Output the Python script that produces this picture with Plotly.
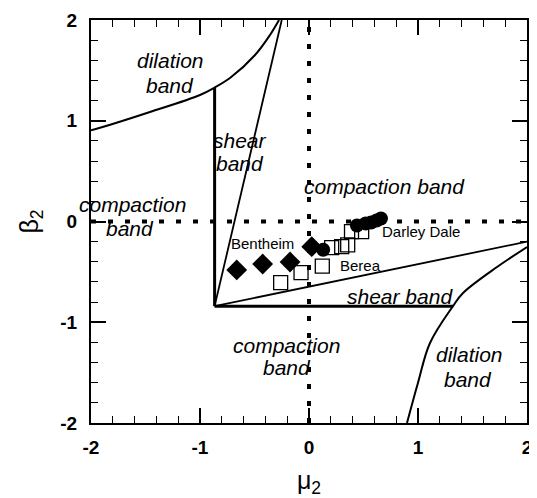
import plotly.graph_objects as go

# ---- data ----
mu_dil_upper = [-2.0, -1.917, -1.459, -1.0, -0.866, -0.725, -0.495, -0.358, -0.275]
beta_dil_upper = [0.905, 0.93, 1.087, 1.256, 1.33, 1.424, 1.653, 1.851, 2.0]

mu_dil_lower = [0.899, 1.0, 1.11, 1.321, 1.413, 1.725, 2.0]
beta_dil_lower = [-2.0, -1.60, -1.206, -0.84, -0.71, -0.452, -0.253]

mu_vert = [-0.866, -0.866]
beta_vert = [-0.84, 1.33]
mu_horiz = [-0.866, 1.321]
beta_horiz = [-0.84, -0.84]
mu_shear_left = [-0.866, -0.25]
beta_shear_left = [-0.84, 2.0]
mu_shear_right = [-0.866, 2.0]
beta_shear_right = [-0.84, -0.20]

mu_zero_line = [0, 0]
beta_zero_line = [-2, 2]
mu_h_zero = [-2, 2]
beta_h_zero = [0, 0]

bentheim_mu = [-0.663, -0.425, -0.174, 0.025]
bentheim_beta = [-0.481, -0.422, -0.402, -0.25]

berea_mu = [-0.26, -0.073, 0.122, 0.208, 0.30, 0.355, 0.39, 0.483]
berea_beta = [-0.607, -0.508, -0.442, -0.26, -0.25, -0.233, -0.10, -0.10]

darley_mu = [0.13, 0.44, 0.52, 0.57, 0.62, 0.66]
darley_beta = [-0.28, -0.04, -0.02, -0.01, 0.01, 0.03]

tick_vals = [-2, -1, 0, 1, 2]
tick_text = ["-2", "-1", "0", "1", "2"]

FONT = "Liberation Sans, Arial, sans-serif"

fig = go.Figure()

def line(x, y, w=2, dash=None, shape="linear"):
    fig.add_trace(go.Scatter(x=x, y=y, mode="lines",
                             line=dict(color="black", width=w, dash=dash, shape=shape),
                             showlegend=False, hoverinfo="skip"))

line(mu_dil_upper, beta_dil_upper, 2, shape="spline")
line(mu_dil_lower, beta_dil_lower, 2, shape="spline")
line(mu_vert, beta_vert, 3)
line(mu_horiz, beta_horiz, 3)
line(mu_shear_left, beta_shear_left, 1.8)
line(mu_shear_right, beta_shear_right, 1.8)
line(mu_zero_line, beta_zero_line, 4, "5px,12px")
line(mu_h_zero, beta_h_zero, 4, "5px,12px")

fig.add_trace(go.Scatter(x=berea_mu, y=berea_beta, mode="markers",
                         marker=dict(symbol="square-open", size=14, color="black",
                                     line=dict(width=1.3, color="black")),
                         showlegend=False))
fig.add_trace(go.Scatter(x=bentheim_mu, y=bentheim_beta, mode="markers",
                         marker=dict(symbol="diamond", size=16, color="black"),
                         showlegend=False))
fig.add_trace(go.Scatter(x=darley_mu, y=darley_beta, mode="markers",
                         marker=dict(symbol="circle", size=14, color="black"),
                         showlegend=False))

labels = [
    ("dilation", -1.275, 1.603, 21, True),
    ("band", -1.275, 1.345, 21, True),
    ("shear", -0.63, 0.80, 21, True),
    ("band", -0.63, 0.575, 21, True),
    ("compaction band", 0.697, 0.352, 21, True),
    ("compaction", -1.615, 0.17, 21, True),
    ("band", -1.64, -0.065, 21, True),
    ("compaction", -0.202, -1.226, 21, True),
    ("band", -0.20, -1.45, 21, True),
    ("shear band", 0.835, -0.74, 21, True),
    ("dilation", 1.477, -1.325, 21, True),
    ("band", 1.46, -1.573, 21, True),
    ("Bentheim", -0.431, -0.223, 15, False),
    ("Berea", 0.477, -0.432, 15, False),
    ("Darley Dale", 1.03, -0.104, 15, False),
]
for txt, x, y, sz, it in labels:
    fig.add_annotation(x=x, y=y, text=txt, showarrow=False,
                       font=dict(family=FONT, size=sz, color="black",
                                 style="italic" if it else "normal"),
                       xanchor="center", yanchor="middle")

axis_common = dict(
    range=[-2, 2], tickvals=tick_vals, ticktext=tick_text,
    ticks="inside", ticklen=15, tickwidth=1.5, tickcolor="black",
    showline=True, linewidth=2, linecolor="black", mirror="allticks",
    showgrid=False, zeroline=False, automargin=False,
    tickfont=dict(family=FONT, size=19, color="black", weight="bold"),
    minor=dict(dtick=0.2, ticks="inside", ticklen=7, tickwidth=1.2,
               tickcolor="black", showgrid=False),
)

fig.update_xaxes(**axis_common, ticklabelstandoff=6,
                 title=dict(text="μ<sub>2</sub>",
                            font=dict(family=FONT, size=25, color="black")))
fig.update_yaxes(**axis_common, ticklabelstandoff=8,
                 title=dict(text="β<sub>2</sub>",
                            font=dict(family=FONT, size=25, color="black")))

# page body has an 8px margin: shrink figure so the plot box lands where the reference has it
fig.update_layout(
    width=529, height=490,
    margin=dict(l=83, r=10, t=12, b=75),
    paper_bgcolor="white", plot_bgcolor="white",
    font=dict(family=FONT, color="black"),
)

fig.write_html("out.html")
